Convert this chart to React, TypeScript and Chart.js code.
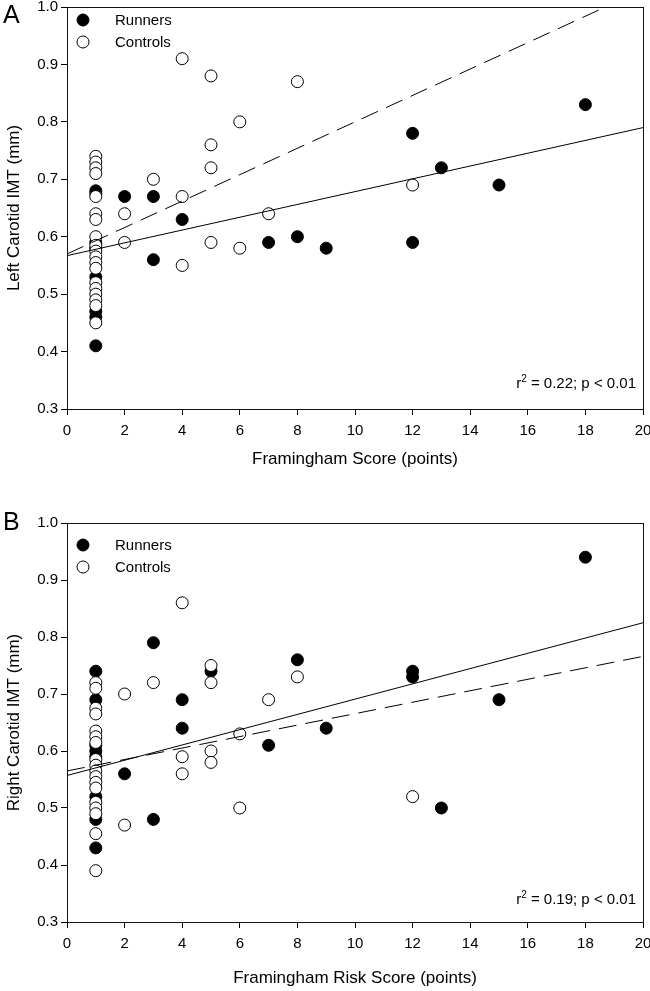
import React, { useEffect, useRef } from "react";
import { Chart, registerables } from "chart.js";

Chart.register(...registerables);

// ---------- Panel A data ----------
const runnersAX = [1, 1, 1, 1, 1, 1, 1, 1, 2, 3, 3, 4, 7, 8, 9, 12, 12, 13, 15, 18];
const runnersAY = [0.68, 0.675, 0.59, 0.58, 0.53, 0.47, 0.46, 0.41, 0.67, 0.67, 0.56, 0.63, 0.59, 0.6, 0.58, 0.78, 0.59, 0.72, 0.69, 0.83];
const controlsAX = [1, 1, 1, 1, 1, 1, 1, 1, 1, 1, 1, 1, 1, 1, 1, 1, 1, 1, 1, 2, 2, 3, 4, 4, 4, 5, 5, 5, 5, 6, 6, 7, 8, 12];
const controlsAY = [0.74, 0.73, 0.72, 0.71, 0.67, 0.64, 0.63, 0.6, 0.585, 0.575, 0.565, 0.555, 0.545, 0.52, 0.51, 0.5, 0.49, 0.48, 0.45, 0.64, 0.59, 0.7, 0.91, 0.67, 0.55, 0.88, 0.76, 0.72, 0.59, 0.8, 0.58, 0.64, 0.87, 0.69];
const fitRunnersAX = [0, 20];
const fitRunnersAY = [0.567, 0.79];
const fitControlsAX = [0, 20];
const fitControlsAY = [0.57, 1.03];

// ---------- Panel B data ----------
const runnersBX = [1, 1, 1, 1, 1, 1, 1, 1, 2, 3, 3, 4, 4, 5, 7, 8, 9, 12, 12, 13, 15, 18];
const runnersBY = [0.74, 0.69, 0.61, 0.6, 0.59, 0.52, 0.48, 0.43, 0.56, 0.79, 0.48, 0.69, 0.64, 0.74, 0.61, 0.76, 0.64, 0.74, 0.73, 0.5, 0.69, 0.94];
const controlsBX = [1, 1, 1, 1, 1, 1, 1, 1, 1, 1, 1, 1, 1, 1, 1, 1, 1, 1, 2, 2, 3, 4, 4, 4, 5, 5, 5, 5, 6, 6, 7, 8, 12];
const controlsBY = [0.72, 0.71, 0.675, 0.665, 0.635, 0.625, 0.615, 0.585, 0.575, 0.565, 0.555, 0.545, 0.535, 0.51, 0.5, 0.49, 0.455, 0.39, 0.7, 0.47, 0.72, 0.86, 0.59, 0.56, 0.75, 0.72, 0.6, 0.58, 0.63, 0.5, 0.69, 0.73, 0.52];
const fitRunnersBX = [0, 20];
const fitRunnersBY = [0.557, 0.825];
const fitControlsBX = [0, 20];
const fitControlsBY = [0.565, 0.766];

// ---------- labels ----------
const legendLabels = ["Runners", "Controls"];
const xTitleA = "Framingham Score (points)";
const xTitleB = "Framingham Risk Score (points)";
const yTitleA = "Left Carotid IMT (mm)";
const yTitleB = "Right Carotid IMT (mm)";
const statsA = ["0.22", "0.01"];
const statsB = ["0.19", "0.01"];
const xTickRange = [0, 20, 2];
const yTickRange = [0.3, 1.0, 0.1];

const FONT = "'Liberation Sans', Arial, sans-serif";

const zip = (xs: number[], ys: number[]) => xs.map((x, i) => ({ x, y: ys[i] }));

type PanelCfg = {
  letter: string;
  rX: number[]; rY: number[]; cX: number[]; cY: number[];
  frX: number[]; frY: number[]; fcX: number[]; fcY: number[];
  xTitle: string; yTitle: string; stats: string[];
  height: number; padTop: number; xAxisH: number; titleBottom: number;
  letterY: number; legendY: number; statsY: number;
};

const panelPlugin = (cfg: PanelCfg) => ({
  id: "panelDeco" + cfg.letter,
  afterDraw(chart: any) {
    const ctx = chart.ctx as CanvasRenderingContext2D;
    const a = chart.chartArea;
    ctx.save();
    // frame
    ctx.strokeStyle = "#111";
    ctx.lineWidth = 1;
    ctx.strokeRect(Math.round(a.left) + 0.5, Math.round(a.top) + 0.5, Math.round(a.right - a.left), Math.round(a.bottom - a.top));
    // letter
    ctx.fillStyle = "#000";
    ctx.font = `25px ${FONT}`;
    ctx.textAlign = "left";
    ctx.textBaseline = "middle";
    ctx.fillText(cfg.letter, 3, cfg.letterY);
    // legend
    ctx.font = `15px ${FONT}`;
    const lx = a.left + 16;
    for (let i = 0; i < 2; i++) {
      const y = cfg.legendY + i * 22;
      ctx.beginPath();
      ctx.arc(lx, y, 6, 0, Math.PI * 2);
      ctx.fillStyle = i === 0 ? "#000" : "#fff";
      ctx.fill();
      ctx.strokeStyle = "#000";
      ctx.lineWidth = 1;
      ctx.stroke();
      ctx.fillStyle = "#000";
      ctx.fillText(legendLabels[i], lx + 32, y + 1);
    }
    // stats annotation, right aligned
    const part1 = "r";
    const sup = "2";
    const part2 = ` = ${cfg.stats[0]}; p < ${cfg.stats[1]}`;
    ctx.font = `15px ${FONT}`;
    const w1 = ctx.measureText(part1).width;
    const w2 = ctx.measureText(part2).width;
    ctx.font = `10px ${FONT}`;
    const ws = ctx.measureText(sup).width;
    const right = a.right - 7;
    const x0 = right - (w1 + ws + w2);
    ctx.textBaseline = "alphabetic";
    ctx.font = `15px ${FONT}`;
    ctx.fillText(part1, x0, cfg.statsY);
    ctx.font = `10px ${FONT}`;
    ctx.fillText(sup, x0 + w1, cfg.statsY - 6);
    ctx.font = `15px ${FONT}`;
    ctx.fillText(part2, x0 + w1 + ws, cfg.statsY);
    ctx.restore();
  },
});

function Panel({ cfg, top }: { cfg: PanelCfg; top: number }) {
  const ref = useRef<HTMLCanvasElement | null>(null);
  useEffect(() => {
    if (!ref.current) return;
    const chart = new Chart(ref.current, {
      type: "scatter",
      data: {
        datasets: [
          {
            label: "fitRunners",
            data: zip(cfg.frX, cfg.frY),
            showLine: true,
            pointRadius: 0,
            borderColor: "#000",
            borderWidth: 1,
            order: 0,
          } as any,
          {
            label: "fitControls",
            data: zip(cfg.fcX, cfg.fcY),
            showLine: true,
            pointRadius: 0,
            borderColor: "#000",
            borderWidth: 1,
            borderDash: [18, 9],
            order: 0,
          } as any,
          {
            label: "Controls",
            data: zip(cfg.cX, cfg.cY),
            pointRadius: 6,
            pointBackgroundColor: "#fff",
            pointBorderColor: "#000",
            pointBorderWidth: 1,
            order: 1,
          } as any,
          {
            label: "Runners",
            data: zip(cfg.rX, cfg.rY),
            pointRadius: 6,
            pointBackgroundColor: "#000",
            pointBorderColor: "#000",
            pointBorderWidth: 1,
            order: 2,
          } as any,
        ],
      },
      options: {
        responsive: false,
        animation: false,
        devicePixelRatio: 1,
        layout: { padding: { top: cfg.padTop, right: 7, left: 0, bottom: 0 } },
        plugins: { legend: { display: false }, tooltip: { enabled: false } },
        scales: {
          x: {
            type: "linear",
            min: xTickRange[0],
            max: xTickRange[1],
            ticks: { stepSize: xTickRange[2], color: "#000", font: { family: FONT, size: 15 }, padding: 7, maxRotation: 0 },
            grid: { drawOnChartArea: false, drawTicks: true, tickLength: 6, color: "#000" },
            border: { display: true, color: "#111" },
            title: { display: true, text: cfg.xTitle, color: "#000", font: { family: FONT, size: 17 }, padding: { top: 0, bottom: cfg.titleBottom } },
            afterFit: (s: any) => { s.height = cfg.xAxisH; s.paddingRight = 0; s.paddingLeft = 0; },
          },
          y: {
            type: "linear",
            min: yTickRange[0],
            max: yTickRange[1],
            ticks: { stepSize: yTickRange[2], color: "#000", font: { family: FONT, size: 15 }, padding: 3, callback: (v: any) => Number(v).toFixed(1) },
            grid: { drawOnChartArea: false, drawTicks: true, tickLength: 6, color: "#000" },
            border: { display: true, color: "#111" },
            title: { display: true, text: cfg.yTitle, color: "#000", font: { family: FONT, size: 17 }, padding: { top: 4, bottom: 0 } },
            afterFit: (s: any) => { s.width = 67; s.paddingTop = 0; s.paddingBottom = 0; },
          },
        },
      },
      plugins: [panelPlugin(cfg)],
    } as any);
    return () => chart.destroy();
  }, []);
  return (
    <canvas
      ref={ref}
      width={650}
      height={cfg.height}
      style={{ position: "absolute", left: 0, top, width: 650, height: cfg.height, display: "block" }}
    />
  );
}

const cfgA: PanelCfg = {
  letter: "A",
  rX: runnersAX, rY: runnersAY, cX: controlsAX, cY: controlsAY,
  frX: fitRunnersAX, frY: fitRunnersAY, fcX: fitControlsAX, fcY: fitControlsAY,
  xTitle: xTitleA, yTitle: yTitleA, stats: statsA,
  height: 495, padTop: 7, xAxisH: 86, titleBottom: 25,
  letterY: 16, legendY: 20, statsY: 388,
};

const cfgB: PanelCfg = {
  letter: "B",
  rX: runnersBX, rY: runnersBY, cX: controlsBX, cY: controlsBY,
  frX: fitRunnersBX, frY: fitRunnersBY, fcX: fitControlsBX, fcY: fitControlsBY,
  xTitle: xTitleB, yTitle: yTitleB, stats: statsB,
  height: 496, padTop: 28, xAxisH: 69, titleBottom: 2,
  letterY: 28, legendY: 50, statsY: 409,
};

export default function App() {
  return (
    <div style={{ position: "absolute", left: 0, top: 0, width: 650, height: 991, background: "#fff" }}>
      <Panel cfg={cfgA} top={0} />
      <Panel cfg={cfgB} top={495} />
    </div>
  );
}
